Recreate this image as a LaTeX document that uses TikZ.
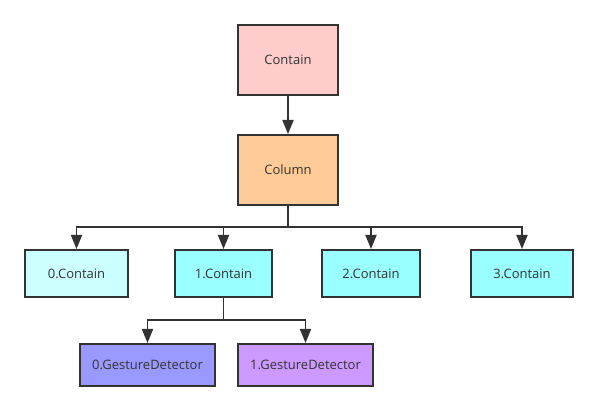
\documentclass[tikz,border=0pt]{standalone}
\usepackage{fontspec}
\setmainfont{Open Sans}
\usetikzlibrary{arrows.meta}
\definecolor{boxline}{HTML}{333333}
\definecolor{pinkfill}{HTML}{FFCCCC}
\definecolor{orangefill}{HTML}{FFCC99}
\definecolor{palecyan}{HTML}{CCFFFF}
\definecolor{cyanfill}{HTML}{99FFFF}
\definecolor{bluefill}{HTML}{9999FF}
\definecolor{purplefill}{HTML}{CC99FF}
\begin{document}
\begin{tikzpicture}[x=1pt, y=-1pt,
  box/.style={draw=boxline, line width=2pt, inner sep=0pt, text=boxline,
    font=\fontsize{13}{15}\selectfont},
  arr/.style={-{Triangle[length=14pt,width=11pt]}, draw=boxline, line width=1.8pt}]
\useasboundingbox (0,0) rectangle (598,411);
\node [box, fill=pinkfill, minimum width=100pt, minimum height=70pt] (contain) at (288,60) {Contain};
\node [box, fill=orangefill, minimum width=100pt, minimum height=70pt] (column) at (288,170) {Column};
\node [box, fill=palecyan, minimum width=103pt, minimum height=47pt] (c0) at (76.5,273.5) {0.Contain};
\node [box, fill=cyanfill, minimum width=97pt, minimum height=47pt] (c1) at (223.5,273.5) {1.Contain};
\node [box, fill=cyanfill, minimum width=98pt, minimum height=47pt] (c2) at (371,273.5) {2.Contain};
\node [box, fill=cyanfill, minimum width=102pt, minimum height=47pt] (c3) at (522,273.5) {3.Contain};
\node [box, fill=bluefill, minimum width=135pt, minimum height=42pt] (g0) at (147.5,365) {0.GestureDetector};
\node [box, fill=purplefill, minimum width=135pt, minimum height=42pt] (g1) at (305.5,365) {1.GestureDetector};
\coordinate (bus1) at (288,227);
\coordinate (bus2) at (223.5,320);
\draw [arr] (contain) -- (column);
\draw [arr] (column.south) -- (bus1) -| (c0.north);
\draw [arr] (bus1) -| (c1.north);
\draw [arr] (bus1) -| (c2.north);
\draw [arr] (bus1) -| (c3.north);
\draw [arr] (c1.south) -- (bus2) -| (g0.north);
\draw [arr] (bus2) -| (g1.north);
\end{tikzpicture}
\end{document}
